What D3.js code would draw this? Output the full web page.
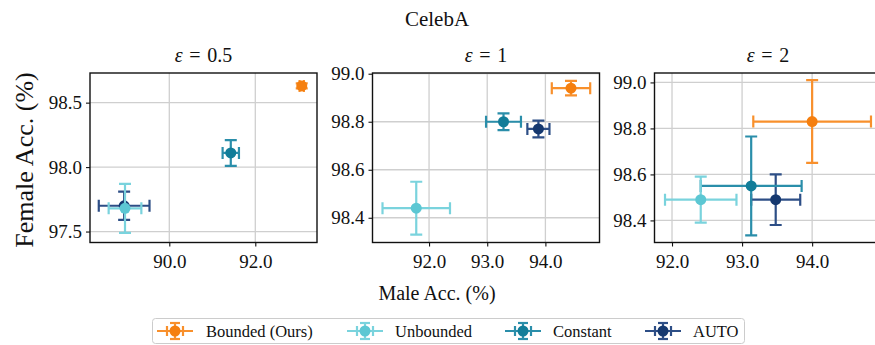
<!DOCTYPE html>
<html>
<head>
<meta charset="utf-8">
<script src="https://cdn.jsdelivr.net/npm/d3@7"></script>
<style>
  html, body { margin: 0; padding: 0; background: #fff; }
  svg { display: block; }
  text { font-family: "Liberation Serif", "DejaVu Serif", serif; fill: #111; }
</style>
</head>
<body>
<svg id="chart" width="875" height="345"></svg>
<script>
// Methods, in legend order
const methods = ["Bounded (Ours)", "Unbounded", "Constant", "AUTO"];
const markerColors = ["#f57f0f", "#5cc7d3", "#127d99", "#15386f"];
const barColors = ["#f8902c", "#7ad3dd", "#2a8eaa", "#2d4e86"];

// Privacy budgets (one panel each)
const epsilons = ["0.5", "1", "2"];

// Male accuracy mean (%) per panel, per method
const maleAcc = [
  [93.08, 88.97, 91.43, 88.95],
  [94.44, 91.78, 93.28, 93.88],
  [94.00, 92.41, 93.13, 93.48]
];
// Male accuracy error (+/-)
const maleErr = [
  [0.05, 0.38, 0.19, 0.59],
  [0.33, 0.58, 0.30, 0.19],
  [0.84, 0.51, 0.72, 0.35]
];
// Female accuracy mean (%)
const femaleAcc = [
  [98.63, 97.68, 98.11, 97.70],
  [98.94, 98.44, 98.80, 98.77],
  [98.83, 98.49, 98.55, 98.49]
];
// Female accuracy error (+/-)
const femaleErr = [
  [0.02, 0.19, 0.10, 0.11],
  [0.03, 0.11, 0.035, 0.035],
  [0.18, 0.10, 0.215, 0.11]
];

// Axis ranges and ticks per panel
const xDomains = [[88.156, 93.435], [91.028, 94.93], [91.75, 94.99]];
const yDomains = [[97.415, 98.73], [98.297, 99.003], [98.304, 99.041]];
const xTicks = [[90, 92], [92, 93, 94], [92, 93, 94]];
const yTicks = [[97.5, 98.0, 98.5], [98.4, 98.6, 98.8, 99.0], [98.4, 98.6, 98.8, 99.0]];

// Drawing order inside each panel (Unbounded last so it sits on top)
const drawOrder = [0, 3, 2, 1];

const svg = d3.select("#chart");
const panelLeft = [90, 372.5, 654.5];
const panelW = 227, panelTop = 73, panelBottom = 242.5;
const fmt = d3.format(".1f");
const serif = "'Liberation Serif', 'Times New Roman', serif";

svg.append("text").attr("x", 437).attr("y", 26)
  .attr("text-anchor", "middle").style("font-size", "21px").text("CelebA");

epsilons.forEach((eps, p) => {
  const x = d3.scaleLinear().domain(xDomains[p]).range([panelLeft[p], panelLeft[p] + panelW]);
  const y = d3.scaleLinear().domain(yDomains[p]).range([panelBottom, panelTop]);
  const g = svg.append("g");

  // panel title
  const t = g.append("text").attr("x", panelLeft[p] + panelW / 2).attr("y", 62)
    .attr("text-anchor", "middle").style("font-size", "20px");
  t.append("tspan").style("font-style", "italic").text("ε");
  t.append("tspan").text("\u2004=\u2004" + eps);

  // grid
  g.append("g").selectAll("line").data(xTicks[p]).join("line")
    .attr("x1", d => x(d)).attr("x2", d => x(d)).attr("y1", panelTop).attr("y2", panelBottom)
    .attr("stroke", "#cfcfcf").attr("stroke-width", 1.3);
  g.append("g").selectAll("line").data(yTicks[p]).join("line")
    .attr("x1", panelLeft[p]).attr("x2", panelLeft[p] + panelW).attr("y1", d => y(d)).attr("y2", d => y(d))
    .attr("stroke", "#cfcfcf").attr("stroke-width", 1.3);

  // axes
  const xAxis = g.append("g").attr("transform", `translate(0,${panelBottom})`)
    .call(d3.axisBottom(x).tickValues(xTicks[p]).tickFormat(fmt).tickSize(4).tickPadding(8));
  const yAxis = g.append("g").attr("transform", `translate(${panelLeft[p]},0)`)
    .call(d3.axisLeft(y).tickValues(yTicks[p]).tickFormat(fmt).tickSize(4).tickPadding(4));
  [xAxis, yAxis].forEach(a => {
    a.attr("font-family", serif).attr("font-size", 19);
    a.select(".domain").remove();
    a.selectAll("line").attr("stroke", "#111").attr("stroke-width", 1.1);
    a.selectAll("text").style("font-size", "19px").style("font-family", serif).attr("fill", "#111");
  });

  // error bars and markers
  const clipId = "clip" + p;
  svg.append("clipPath").attr("id", clipId).append("rect")
    .attr("x", panelLeft[p]).attr("y", panelTop).attr("width", panelW).attr("height", panelBottom - panelTop);
  const marks = g.append("g").attr("clip-path", `url(#${clipId})`);
  const cap = 6;
  drawOrder.forEach(m => {
    const cx = x(maleAcc[p][m]), cy = y(femaleAcc[p][m]);
    const xl = x(maleAcc[p][m] - maleErr[p][m]), xr = x(maleAcc[p][m] + maleErr[p][m]);
    const yt = y(femaleAcc[p][m] + femaleErr[p][m]), yb = y(femaleAcc[p][m] - femaleErr[p][m]);
    const eg = marks.append("g").attr("stroke", barColors[m]).attr("stroke-width", 2.2).attr("fill", "none");
    eg.append("line").attr("x1", xl).attr("x2", xr).attr("y1", cy).attr("y2", cy);
    eg.append("line").attr("x1", cx).attr("x2", cx).attr("y1", yt).attr("y2", yb);
    [xl, xr].forEach(v => eg.append("line").attr("x1", v).attr("x2", v).attr("y1", cy - cap).attr("y2", cy + cap));
    [yt, yb].forEach(v => eg.append("line").attr("x1", cx - cap).attr("x2", cx + cap).attr("y1", v).attr("y2", v));
    marks.append("circle").attr("cx", cx).attr("cy", cy).attr("r", 5.5).attr("fill", markerColors[m]);
  });

  // frame
  g.append("rect").attr("x", panelLeft[p]).attr("y", panelTop).attr("width", panelW).attr("height", panelBottom - panelTop)
    .attr("fill", "none").attr("stroke", "#111").attr("stroke-width", 1.4);
});

// axis labels
svg.append("text").attr("x", 437).attr("y", 300).attr("text-anchor", "middle")
  .style("font-size", "20px").text("Male Acc. (%)");
svg.append("text").attr("transform", "translate(33,160) rotate(-90)").attr("text-anchor", "middle")
  .style("font-size", "26px").text("Female Acc. (%)");

// legend
const lg = svg.append("g");
lg.append("rect").attr("x", 152.5).attr("y", 318.5).attr("width", 592).attr("height", 25).attr("rx", 3)
  .attr("fill", "#fff").attr("stroke", "#cccccc").attr("stroke-width", 1);
const handleX = [175, 365, 523, 663];
const textX = [206, 395, 553, 693];
const ly = 331;
methods.forEach((name, m) => {
  const h = lg.append("g").attr("stroke", barColors[m]).attr("stroke-width", 2.2);
  h.append("line").attr("x1", handleX[m] - 18).attr("x2", handleX[m] + 18).attr("y1", ly).attr("y2", ly);
  h.append("line").attr("x1", handleX[m]).attr("x2", handleX[m]).attr("y1", ly - 8).attr("y2", ly + 8);
  [-8, 8].forEach(d => h.append("line").attr("x1", handleX[m] + d).attr("x2", handleX[m] + d).attr("y1", ly - 5).attr("y2", ly + 5));
  [-8, 8].forEach(d => h.append("line").attr("x1", handleX[m] - 5).attr("x2", handleX[m] + 5).attr("y1", ly + d).attr("y2", ly + d));
  lg.append("circle").attr("cx", handleX[m]).attr("cy", ly).attr("r", 5.5).attr("fill", markerColors[m]);
  lg.append("text").attr("x", textX[m]).attr("y", ly + 5.5).style("font-size", "16.5px").text(name);
});
</script>
</body>
</html>
